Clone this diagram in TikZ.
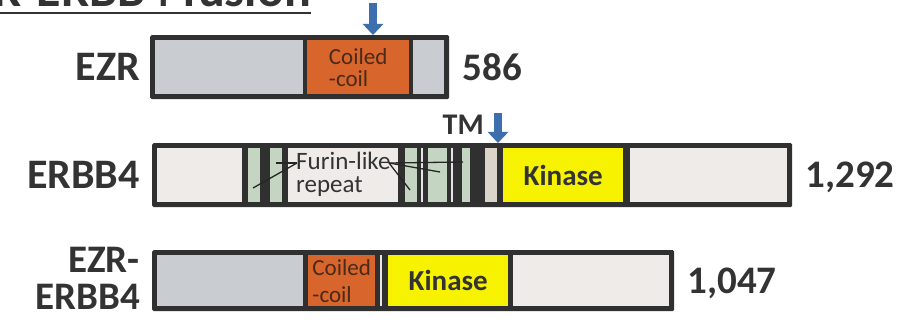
\documentclass[tikz,border=0pt]{standalone}
\usepackage{fontspec}
\setmainfont{Carlito}
\usetikzlibrary{arrows.meta,positioning}

\begin{document}
\begin{tikzpicture}[x=1pt, y=-1pt,
  protein/.style={fill=edge, rounded corners=1.5pt, anchor=north west, inner sep=0pt},
  seg/.style={anchor=north west, inner sep=0pt},
  gname/.style={font=\fontsize{42}{34}\selectfont\bfseries, text=ink, align=right, inner sep=0pt},
  glen/.style={font=\fontsize{39}{40}\selectfont\bfseries, text=ink, inner sep=0pt},
  cctext/.style={font=\fontsize{23}{22}\selectfont, text=ccink, align=left},
  kintext/.style={font=\fontsize{29}{30}\selectfont\bfseries, text=ink},
  cut/.style={draw=cutblue, line width=8pt, -{Triangle[width=20pt,length=11pt]}},
  furline/.style={draw=black!85, line width=1.3pt},
  gapline/.style={draw=white!90!black, line width=1.2pt},
]
\definecolor{edge}{HTML}{303030}\definecolor{ink}{HTML}{333333}
\definecolor{ezrgrey}{HTML}{C9CCD0}\definecolor{ccorange}{HTML}{D8652B}\definecolor{ccink}{HTML}{4A2A18}
\definecolor{pale}{HTML}{EEEBE8}\definecolor{repgreen}{HTML}{C4D5C2}\definecolor{tmtan}{HTML}{DAD4CA}
\definecolor{kinyellow}{HTML}{F7F300}\definecolor{cutblue}{HTML}{3D6EAD}
\path[use as bounding box, fill=white] (0,0) rectangle (911,320);
% title (cut by the page edge)
\node[anchor=base east, inner sep=0pt, font=\fontsize{50}{50}\selectfont\bfseries, text=ink] (title) at (311,7) {R-ERBB4 fusion};
\draw[ink, line width=2.2pt] ([yshift=-6pt]title.base west) -- ([yshift=-6pt]title.base east);
% ---- EZR ----
\node[protein, minimum width=299pt, minimum height=64pt] (ezr) at (150,35) {};
\node[seg, fill=ezrgrey, minimum width=148pt, minimum height=54pt] (ezr1) at (155,40) {};
\node[seg, fill=ccorange, minimum width=102pt, minimum height=54pt, cctext] (cc1) at (307,40) {Coiled\\-coil};
\node[seg, fill=ezrgrey, minimum width=31pt, minimum height=54pt] (ezr2) at (413,40) {};
\node[gname, left=10pt of ezr] (ezrlab) {EZR};
\node[glen, right=13pt of ezr] (ezrlen) {586};
\coordinate (cut1) at (373,3);
\draw[cut] (cut1) -- (cut1 |- ezr.north);
% ---- ERBB4 ----
\node[protein, minimum width=640pt, minimum height=64pt] (erbb) at (152,143) {};
\node[seg, fill=pale, minimum width=85pt, minimum height=54pt] (erbb1) at (157,148) {};
\node[seg, fill=repgreen, minimum width=12pt, minimum height=54pt] (rg1) at (248,148) {};
\node[seg, fill=repgreen, minimum width=12pt, minimum height=54pt] (rg2) at (270,148) {};
\node[seg, fill=pale, minimum width=110pt, minimum height=54pt] (furbox) at (288,148) {};
\node[seg, fill=repgreen, minimum width=12pt, minimum height=54pt] (rg3) at (405,148) {};
\node[seg, fill=repgreen, minimum width=19pt, minimum height=54pt] (rg4) at (428,148) {};
\node[seg, fill=repgreen, minimum width=8pt, minimum height=54pt] (rg5) at (462,148) {};
\node[seg, fill=tmtan, minimum width=12pt, minimum height=54pt] (tm) at (485,148) {};
\node[seg, fill=kinyellow, minimum width=120pt, minimum height=54pt, kintext] (kin1) at (503,148) {Kinase};
\node[seg, fill=pale, minimum width=157pt, minimum height=54pt] (erbb2) at (630,148) {};
\draw[gapline] (422,148) -- (422,202);
\draw[gapline] (452,148) -- (452,202);
\node[anchor=north west, inner sep=0pt, align=left, font=\fontsize{25}{23}\selectfont, text=ink] (furin) at (296,152) {Furin-like\\repeat};
\coordinate (fL) at (297,163);
\coordinate (fR) at (389,163);
\coordinate (rep1) at (253,188);
\coordinate (rep2) at (276,163);
\coordinate (rep3) at (410,190);
\coordinate (rep4) at (440,172);
\coordinate (rep5) at (463,162);
\foreach \t in {rep1,rep2} \draw[furline] (fL) -- (\t);
\foreach \t in {rep3,rep4,rep5} \draw[furline] (fR) -- (\t);
\node[gname, left=12pt of erbb] (erbblab) {ERBB4};
\node[glen, right=13pt of erbb, yshift=-2pt] (erbblen) {1,292};
\node[anchor=base east, inner sep=0pt, font=\fontsize{30}{30}\selectfont\bfseries, text=ink] (tmlab) at (484,135) {TM};
\coordinate (cut2) at (498,113);
\draw[cut] (cut2) -- (cut2 |- erbb.north);
% ---- EZR-ERBB4 ----
\node[protein, minimum width=522pt, minimum height=61pt] (fus) at (152,250) {};
\node[seg, fill=ezrgrey, minimum width=146pt, minimum height=51pt] (fus1) at (157,255) {};
\node[seg, fill=ccorange, minimum width=67pt, minimum height=51pt, cctext] (cc2) at (308,255) {Coiled\\[5pt]-coil};
\node[seg, fill=kinyellow, minimum width=120pt, minimum height=51pt, kintext] (kin2) at (388,255) {Kinase};
\node[seg, fill=pale, minimum width=156pt, minimum height=51pt] (fus2) at (513,255) {};
\draw[gapline] (381,255) -- (381,306);
\node[gname, font=\fontsize{39}{37}\selectfont\bfseries, left=12pt of fus, yshift=2pt] (fuslab) {EZR-\\ERBB4};
\node[glen, right=13pt of fus, yshift=-3pt] (fuslen) {1,047};
\end{tikzpicture}
\end{document}
